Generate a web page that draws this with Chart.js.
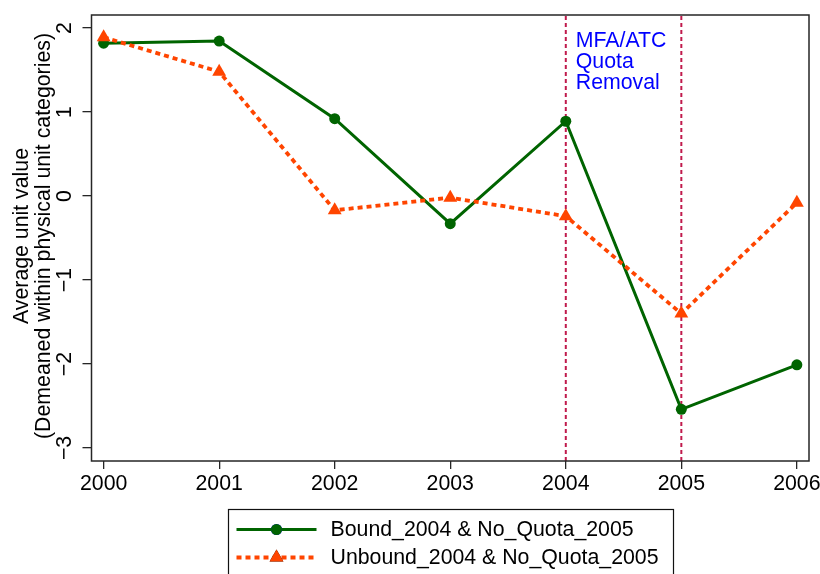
<!DOCTYPE html>
<html>
<head>
<meta charset="utf-8">
<script src="https://cdn.jsdelivr.net/npm/chart.js@4.4.1/dist/chart.umd.min.js"></script>
<style>
  html, body { margin: 0; padding: 0; background: #fff; }
  #wrap { width: 820px; height: 574px; }
</style>
</head>
<body>
<div id="wrap"><canvas id="c" width="820" height="574"></canvas></div>
<script>
// Years and average unit values for the two product groups
const years = [2000, 2001, 2002, 2003, 2004, 2005, 2006];
const boundVals = [1.82, 1.845, 0.92, -0.33, 0.89, -2.54, -2.01];
const unboundVals = [1.89, 1.48, -0.17, -0.02, -0.24, -1.40, -0.08];
const seriesLabels = ['Bound_2004 & No_Quota_2005', 'Unbound_2004 & No_Quota_2005'];

// Axis ticks and titles
const xTickLabels = ['2000', '2001', '2002', '2003', '2004', '2005', '2006'];
const yTickValues = [2, 1, 0, -1, -2, -3];
const yTickLabels = ['2', '1', '0', '\u22121', '\u22122', '\u22123'];
const yTitleLines = ['Average unit value', '(Demeaned within physical unit categories)'];

// Reference lines marking the quota removal
const quotaYears = [2004, 2005];
const noteLines = ['MFA/ATC', 'Quota', 'Removal'];

const X_MIN = 1999.895, X_MAX = 2006.105;
const Y_MIN = -3.155, Y_MAX = 2.155;

const FONT = "'Liberation Sans', Arial, Helvetica, sans-serif";
const TEXT_SIZE = 21.3;
const GREEN = '#006400';
const ORANGE = '#FF4500';
const XLINE = '#C01A4C';
const FRAME = '#262626';

const pts = (vals) => years.map((yr, i) => ({ x: yr, y: vals[i] }));

const datasets = [
  {
    label: seriesLabels[0],
    data: pts(boundVals),
    borderColor: GREEN,
    backgroundColor: GREEN,
    borderWidth: 3,
    pointStyle: 'circle',
    pointRadius: 5.5,
    pointBorderWidth: 0,
    pointHoverRadius: 5.5,
    tension: 0,
    order: 1
  },
  {
    label: seriesLabels[1],
    data: pts(unboundVals),
    borderColor: ORANGE,
    backgroundColor: ORANGE,
    borderWidth: 3.8,
    borderDash: [5, 4],
    pointStyle: 'triangle',
    pointRadius: 8,
    pointBorderWidth: 0,
    pointHoverRadius: 8,
    tension: 0,
    order: 0
  }
];

quotaYears.forEach((yr) => {
  datasets.push({
    label: 'xline' + yr,
    data: [{ x: yr, y: Y_MIN }, { x: yr, y: Y_MAX }],
    borderColor: XLINE,
    borderWidth: 2,
    borderDash: [4, 3],
    pointRadius: 0,
    pointHoverRadius: 0,
    order: 2
  });
});

// Frame, rotated y tick labels, axis title, note text and boxed legend
const decorations = {
  id: 'decorations',
  afterDraw(chart) {
    const { ctx, chartArea: a, scales } = chart;
    const xs = scales.x, ys = scales.y;
    ctx.save();

    // plot frame
    ctx.strokeStyle = FRAME;
    ctx.lineWidth = 1.5;
    ctx.strokeRect(a.left, a.top, a.right - a.left, a.bottom - a.top);

    // y tick labels, rotated
    ctx.fillStyle = '#000';
    ctx.font = TEXT_SIZE + 'px ' + FONT;
    ctx.textAlign = 'center';
    ctx.textBaseline = 'middle';
    yTickValues.forEach((v, i) => {
      const y = ys.getPixelForValue(v);
      ctx.save();
      ctx.translate(a.left - 27, y);
      ctx.rotate(-Math.PI / 2);
      ctx.fillText(yTickLabels[i], 0, 1);
      ctx.restore();
    });

    // y axis title (two lines)
    const midY = (a.top + a.bottom) / 2 - 2;
    [22, 44].forEach((x, i) => {
      ctx.save();
      ctx.translate(x, midY);
      ctx.rotate(-Math.PI / 2);
      ctx.fillText(yTitleLines[i], 0, 0);
      ctx.restore();
    });

    // note next to the first reference line
    ctx.fillStyle = '#0000FF';
    ctx.textAlign = 'left';
    ctx.textBaseline = 'alphabetic';
    const nx = xs.getPixelForValue(quotaYears[0]) + 10;
    noteLines.forEach((t, i) => {
      ctx.fillText(t, nx, a.top + 32 + i * 21.2);
    });

    // legend box
    const boxW = 445;
    const boxL = Math.round((a.left + a.right) / 2 - boxW / 2) + 0.5;
    const boxT = a.bottom + 48.5;
    ctx.strokeStyle = '#111';
    ctx.lineWidth = 1.2;
    ctx.strokeRect(boxL, boxT, boxW, 120);

    const rows = [boxT + 20, boxT + 48];
    const sx0 = boxL + 8, sx1 = boxL + 88, mx = (sx0 + sx1) / 2;
    [0, 1].forEach((k) => {
      const ds = chart.data.datasets[k];
      const y = rows[k];
      ctx.save();
      ctx.strokeStyle = ds.borderColor;
      ctx.lineWidth = ds.borderWidth;
      ctx.setLineDash(ds.borderDash || []);
      ctx.beginPath();
      ctx.moveTo(sx0, y);
      ctx.lineTo(sx1, y);
      ctx.stroke();
      ctx.restore();
      Chart.helpers.drawPoint(ctx, {
        pointStyle: ds.pointStyle,
        radius: ds.pointRadius,
        rotation: 0,
        borderWidth: 0
      }, mx, y);
      ctx.fillStyle = ds.backgroundColor;
      ctx.fill();
      ctx.fillStyle = '#000';
      ctx.textBaseline = 'middle';
      ctx.fillText(ds.label, boxL + 102, y + 1);
    });

    ctx.restore();
  }
};

new Chart(document.getElementById('c'), {
  type: 'line',
  data: { datasets },
  options: {
    responsive: false,
    animation: false,
    events: [],
    layout: { padding: { top: 15, right: 11, left: 0, bottom: 0 } },
    plugins: { legend: { display: false }, tooltip: { enabled: false } },
    scales: {
      x: {
        type: 'linear',
        min: X_MIN,
        max: X_MAX,
        afterBuildTicks: (s) => { s.ticks = years.map((v) => ({ value: v })); },
        afterFit: (s) => { s.height = 113; s.paddingLeft = 0; s.paddingRight = 0; },
        grid: { drawOnChartArea: false, drawTicks: true, tickLength: 8, color: FRAME, lineWidth: 1.3 },
        border: { display: false },
        ticks: {
          autoSkip: false,
          maxRotation: 0,
          padding: 2,
          color: '#000',
          font: { family: FONT, size: TEXT_SIZE },
          callback: (v, i) => xTickLabels[i]
        }
      },
      y: {
        type: 'linear',
        min: Y_MIN,
        max: Y_MAX,
        afterBuildTicks: (s) => { s.ticks = yTickValues.map((v) => ({ value: v })); },
        afterFit: (s) => { s.width = 91.5; s.paddingTop = 0; s.paddingBottom = 0; },
        grid: { drawOnChartArea: false, drawTicks: true, tickLength: 9, color: FRAME, lineWidth: 1.3 },
        border: { display: false },
        ticks: { display: false }
      }
    }
  },
  plugins: [decorations]
});
</script>
</body>
</html>
